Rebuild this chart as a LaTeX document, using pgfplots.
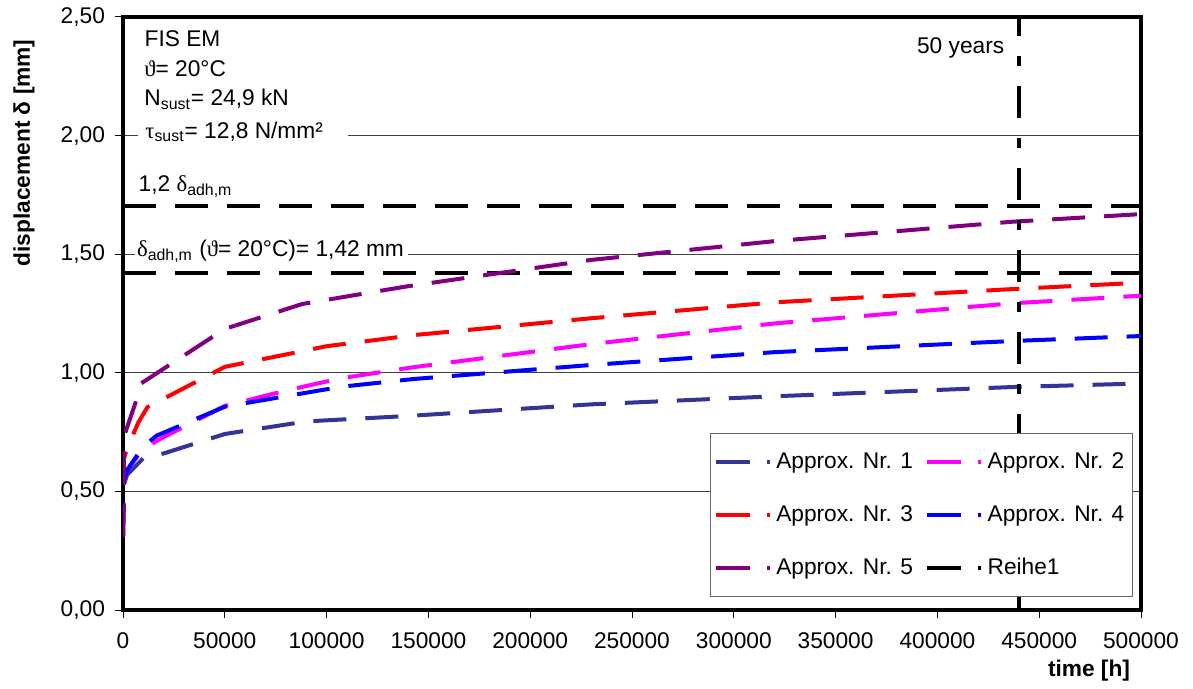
\documentclass[border=0pt]{standalone}
\usepackage{fontspec}
\setmainfont{Liberation Sans}
\newfontfamily\grk{Liberation Serif}
\usepackage{pgfplots}
\pgfplotsset{compat=1.18}
\definecolor{apxA}{HTML}{333399}
\definecolor{apxB}{HTML}{FF00FF}
\definecolor{apxC}{HTML}{FF0000}
\definecolor{apxD}{HTML}{0000FF}
\definecolor{apxE}{HTML}{800080}
\newcommand{\g}[1]{{\grk #1}}
\pgfplotsset{
  cur/.style={line width=2bp, dash pattern=on 16.5bp off 9.5bp, line cap=butt},
  blk/.style={black, line width=2.25bp, dash pattern=on 16.5bp off 9.5bp},
}
\begin{document}
\begin{tikzpicture}[font=\fontsize{11.4}{13.7}\selectfont]
\path[use as bounding box] (-61.5bp,-39.5bp) rectangle (535bp,305bp);
\begin{axis}[
  at={(0,0)}, anchor=south west, scale only axis,
  width=509bp, height=296.5bp,
  xmin=0, xmax=500000, ymin=0, ymax=2.5,
  xtick={0,50000,...,500000}, ytick={0,0.5,1,1.5,2,2.5},
  scaled x ticks=false,
  /pgf/number format/assume math mode=true,
  xticklabel style={yshift=-4bp, /pgf/number format/.cd,fixed,precision=0,1000 sep={}},
  yticklabel style={xshift=-1.5bp, /pgf/number format/.cd,fixed,fixed zerofill,precision=2,use comma},
  tick align=outside, xtick pos=bottom, ytick pos=left,
  major tick length=4bp, tick style={black, line width=0.5bp},
  axis line style={black, line width=2bp},
  ymajorgrids, grid style={black!75, line width=0.5bp},
  legend columns=2, legend cell align=left,
  legend style={at={(rel axis cs:0.992,0.2985)}, anchor=north east,
    draw=black!60, line width=0.5bp, fill=white,
    inner xsep=2bp, inner ysep=7.5bp, row sep=13bp,
    /tikz/every even column/.append style={column sep=4bp}},
  legend image code/.code={
    \draw[#1,solid] (0bp,0bp) -- (17bp,0bp);
    \draw[#1,solid] (25.5bp,0bp) -- (27bp,0bp);},
]
\addplot[blk, forget plot] coordinates {(0,1.704) (500000,1.704)};
\addplot[blk, forget plot] coordinates {(0,1.42) (500000,1.42)};
% Approx. Nr. 1
\addplot[cur, apxA] coordinates {
(0,0.31) (500,0.53) (2000,0.57) (10000,0.64) (20000,0.66) (50000,0.742)
(90000,0.795) (140000,0.818) (230000,0.867) (320000,0.901) (437000,0.94) (500000,0.955)};
% Approx. Nr. 2
\addplot[cur, apxB] coordinates {
(0,0.31) (500,0.54) (2000,0.59) (10000,0.68) (18000,0.72) (50000,0.86)
(80000,0.925) (107000,0.977) (143000,1.024) (230000,1.121) (320000,1.208) (437000,1.293) (500000,1.325)};
% Approx. Nr. 3
\addplot[cur, apxC] coordinates {
(0,0.31) (500,0.64) (2000,0.68) (7500,0.79) (12000,0.855) (50000,1.025)
(100000,1.112) (143000,1.159) (230000,1.23) (320000,1.297) (437000,1.353) (500000,1.38)};
% Approx. Nr. 4
\addplot[cur, apxD] coordinates {
(0,0.31) (500,0.54) (2000,0.59) (10000,0.69) (16500,0.735) (50000,0.857)
(107000,0.941) (143000,0.974) (230000,1.033) (320000,1.087) (437000,1.134) (500000,1.155)};
% Approx. Nr. 5
\addplot[cur, apxE] coordinates {
(0,0.31) (500,0.72) (1000,0.745) (6000,0.87) (9000,0.956) (50000,1.185)
(88000,1.29) (119000,1.335) (140000,1.365) (230000,1.476) (320000,1.555) (437000,1.637) (500000,1.669)};
% Reihe1 (50 years)
\addplot[black, line width=2.3bp, dash pattern=on 16bp off 10bp on 5bp off 10bp] coordinates {(440000,0) (440000,2.5)};
\legend{Approx. Nr. 1, Approx. Nr. 2, Approx. Nr. 3, Approx. Nr. 4, Approx. Nr. 5, Reihe1}
\end{axis}
% white boxes behind the annotations
\fill[white] (7.5bp,232.5bp) rectangle (112.5bp,294bp);
\fill[white] (6bp,171bp) rectangle (142.5bp,185bp);
\node[anchor=base west, inner sep=0pt] at (10.65bp,281.65bp) {FIS EM};
\node[anchor=base west, inner sep=0pt] at (10.5bp,266.65bp) {\g{ϑ}= 20°C};
\node[anchor=base west, inner sep=0pt] at (10.5bp,252bp) {N\textsubscript{sust}= 24,9 kN};
\node[anchor=base west, inner sep=0pt] at (11bp,235.85bp) {\g{τ}\textsubscript{sust}= 12,8 N/mm²};
\node[anchor=base west, inner sep=0pt] at (7.65bp,209.15bp) {1,2 \g{δ}\textsubscript{adh,m}};
\node[anchor=base west, inner sep=0pt] at (6.85bp,176.65bp) {\g{δ}\textsubscript{adh,m} (\g{ϑ}= 20°C)= 1,42 mm};
\node[anchor=base west, inner sep=0pt] at (396.85bp,278.35bp) {50 years};
\node[rotate=90, font=\fontsize{11.4}{13.7}\selectfont\bfseries] at (-49.5bp,228.5bp) {displacement δ [mm]};
\node[font=\fontsize{11.4}{13.7}\selectfont\bfseries] at (483bp,-30.5bp) {time [h]};
\end{tikzpicture}
\end{document}
